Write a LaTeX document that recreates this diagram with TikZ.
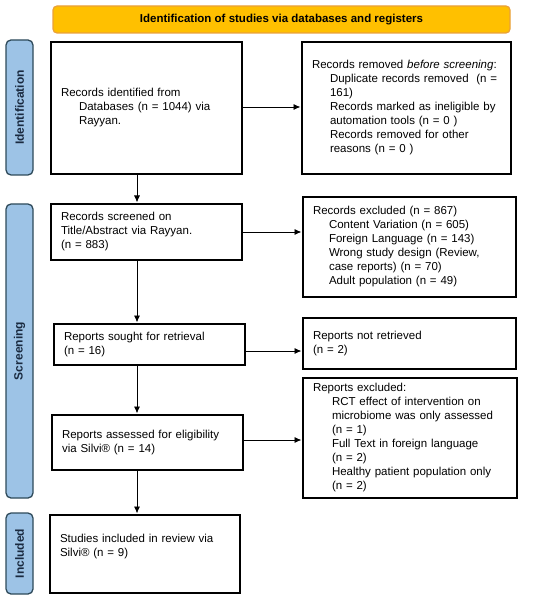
\documentclass[tikz,border=0pt]{standalone}
\usepackage{fontspec}
\setmainfont{Liberation Sans}
\usetikzlibrary{arrows.meta}
\definecolor{bannerfill}{HTML}{FFC000}
\definecolor{bannerdraw}{HTML}{E9A13B}
\definecolor{sidefill}{HTML}{9DC3E6}
\definecolor{sidedraw}{HTML}{2E4A5A}
\definecolor{sidetext}{HTML}{1A2A40}
\begin{document}
\begin{tikzpicture}[x=1pt,y=-1pt,
  box/.style={draw, line width=1.3pt, rectangle, inner xsep=10pt, inner ysep=0pt,
    outer sep=0pt, align=left, font=\fontsize{11.5}{14}\selectfont},
  side/.style={draw=sidedraw, fill=sidefill, rounded corners=5pt, line width=1.3pt,
    minimum width=27pt, inner sep=0pt, outer sep=0pt, text=sidetext,
    font=\fontsize{12}{14}\selectfont\bfseries},
  banner/.style={draw=bannerdraw, fill=bannerfill, rounded corners=4pt, line width=1.2pt,
    minimum width=457pt, minimum height=27pt, inner sep=0pt,
    font=\fontsize{11.5}{14}\selectfont\bfseries},
  arr/.style={-{Latex[length=7pt,width=6pt]}, line width=0.9pt, shorten >=1.5pt}
]
\useasboundingbox (0,0) rectangle (550,601);

\node[banner] (ban) at (281.5,19.5) {Identification of studies via databases and registers};

\node[side, minimum height=135pt] (s1) at (19.5,107.5) {\rotatebox{90}{Identification}};
\node[side, minimum height=294pt] (s2) at (19.5,351) {\rotatebox{90}{Screening}};
\node[side, minimum height=81pt] (s3) at (19.5,553.5) {\rotatebox{90}{Included}};

\node[box, minimum width=191pt, minimum height=132pt, text width=171pt] (b1) at (146.5,108)
 {Records identified from\\
  \hspace*{18pt}Databases (n = 1044) via\\
  \hspace*{18pt}Rayyan.};

\node[box, minimum width=209pt, minimum height=132pt, text width=189pt] (b2) at (406.5,108)
 {Records removed \textit{before screening}:\\
  \hspace*{18pt}Duplicate records removed\ \ (n =\\
  \hspace*{18pt}161)\\
  \hspace*{18pt}Records marked as ineligible by\\
  \hspace*{18pt}automation tools (n = 0 )\\
  \hspace*{18pt}Records removed for other\\
  \hspace*{18pt}reasons (n = 0 )};

\node[box, minimum width=191pt, minimum height=56pt, text width=171pt] (b3) at (146.5,232)
 {Records screened on\\
  Title/Abstract via Rayyan.\\
  (n = 883)};

\node[box, minimum width=213pt, minimum height=100pt, text width=193pt] (b4) at (409.5,247)
 {Records excluded (n = 867)\\
  \hspace*{16pt}Content Variation (n = 605)\\
  \hspace*{16pt}Foreign Language (n = 143)\\
  \hspace*{16pt}Wrong study design (Review,\\
  \hspace*{16pt}case reports) (n = 70)\\
  \hspace*{16pt}Adult population (n = 49)};

\node[box, minimum width=191pt, minimum height=41pt, text width=171pt] (b5) at (149.5,344.5)
 {Reports sought for retrieval\\
  (n = 16)};

\node[box, minimum width=213pt, minimum height=51pt, text width=193pt] (b6) at (409.5,343.5)
 {Reports not retrieved\\
  (n = 2)};

\node[box, minimum width=191pt, minimum height=55pt, text width=171pt] (b7) at (147.5,442.5)
 {Reports assessed for eligibility\\
  via Silvi® (n = 14)};

\node[box, minimum width=214pt, minimum height=120pt, text width=194pt] (b8) at (410,438)
 {Reports excluded:\\
  \hspace*{19pt}RCT effect of intervention on\\
  \hspace*{19pt}microbiome was only assessed\\
  \hspace*{19pt}(n = 1)\\
  \hspace*{19pt}Full Text in foreign language\\
  \hspace*{19pt}(n = 2)\\
  \hspace*{19pt}Healthy patient population only\\
  \hspace*{19pt}(n = 2)};

\node[box, minimum width=190pt, minimum height=78pt, text width=170pt] (b9) at (145,554)
 {Studies included in review via\\
  Silvi® (n = 9)\\
  \strut};

\coordinate (xc) at (137,0);
\draw[arr] (b1.south -| xc) -- (b3.north -| xc);
\draw[arr] (b3.south -| xc) -- (b5.north -| xc);
\draw[arr] (b5.south -| xc) -- (b7.north -| xc);
\draw[arr] (b7.south -| xc) -- (b9.north -| xc);
\draw[arr] ([yshift=1pt]b1.east) -- ([yshift=1pt]b1.east -| b2.west);
\draw[arr] (b3.east) -- (b3.east -| b4.west);
\draw[arr] ([yshift=-6.5pt]b5.east) -- ([yshift=-6.5pt]b5.east -| b6.west);
\draw[arr] ([yshift=2.5pt]b7.east) -- ([yshift=2.5pt]b7.east -| b8.west);
\end{tikzpicture}
\end{document}
